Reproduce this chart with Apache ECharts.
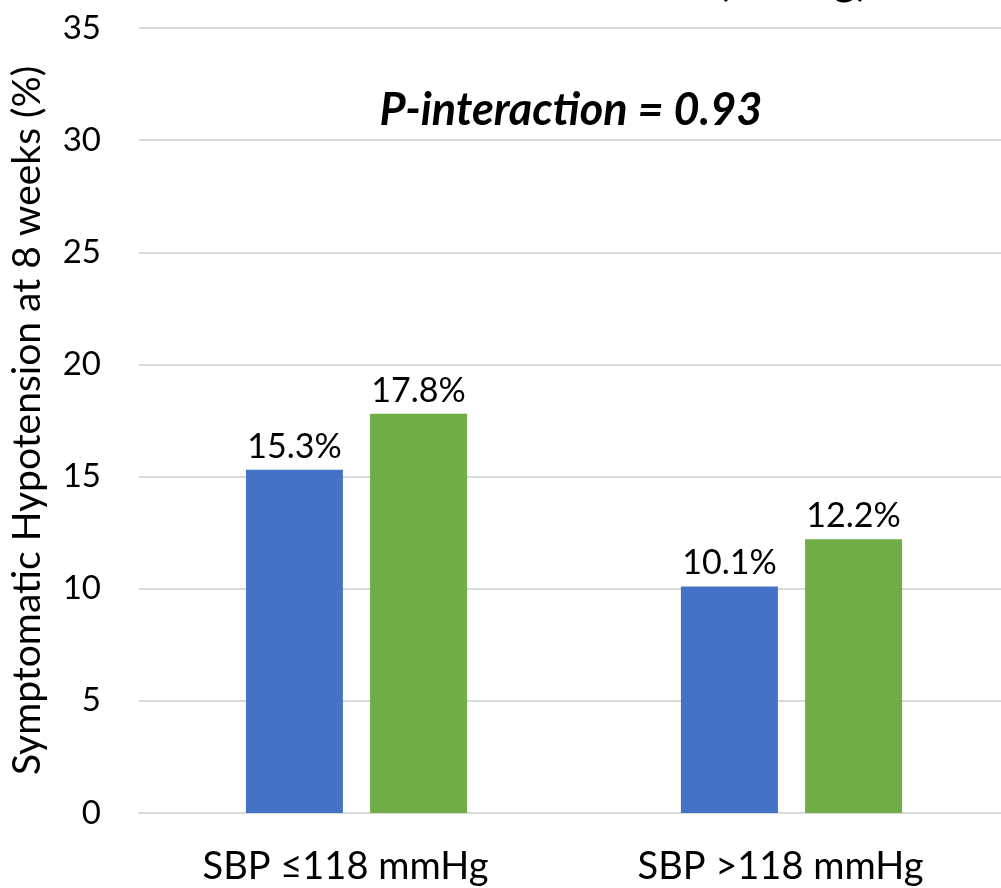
<!DOCTYPE html>
<html>
<head>
<meta charset="utf-8">
<script src="https://cdn.jsdelivr.net/npm/echarts@6/dist/echarts.min.js"></script>
<style>
  html, body { margin: 0; padding: 0; background: #fff; overflow: hidden; }
  #chart { width: 1010px; height: 888px; }
</style>
</head>
<body>
<div id="chart"></div>
<script>
// Subgroups by baseline systolic blood pressure
const categories = ['SBP \u2264118 mmHg', 'SBP >118 mmHg'];
// Symptomatic hypotension rate (%) in each treatment arm
const armBlue = [15.3, 10.1];
const armGreen = [17.8, 12.2];
// Value axis ticks
const yTicks = [0, 5, 10, 15, 20, 25, 30, 35];
const yAxisTitle = 'Symptomatic Hypotension at 8 weeks (%)';
const pInteraction = 'P-interaction = 0.93';
const topHeading = '(mmHg)';

const FONT = 'Lato, "Open Sans", sans-serif';
const chart = echarts.init(document.getElementById('chart'), null, { renderer: 'canvas' });

const labelStyle = {
  show: true,
  position: 'top',
  distance: 6,
  fontFamily: FONT,
  fontSize: 34,
  color: '#000',
  formatter: p => p.value.toFixed(1) + '%'
};

chart.setOption({
  animation: false,
  backgroundColor: '#fff',
  grid: { left: 138, top: 28, width: 871, bottom: 75, containLabel: false },
  xAxis: {
    type: 'category',
    data: categories,
    axisLine: { lineStyle: { color: '#d9d9d9', width: 2 } },
    axisTick: { show: false },
    axisLabel: {
      fontFamily: FONT, fontSize: 38, color: '#000', margin: 35,
      padding: [0, 22, 0, 0]
    }
  },
  yAxis: {
    type: 'value',
    min: yTicks[0],
    max: yTicks[yTicks.length - 1],
    interval: yTicks[1] - yTicks[0],
    name: yAxisTitle,
    nameLocation: 'middle',
    nameGap: 92,
    nameTextStyle: { fontFamily: FONT, fontSize: 39, color: '#000' },
    axisLine: { show: false },
    axisTick: { show: false },
    axisLabel: { fontFamily: FONT, fontSize: 33, color: '#000', margin: 38 },
    splitLine: { lineStyle: { color: '#d9d9d9', width: 2 } }
  },
  series: [
    {
      type: 'bar',
      data: armBlue,
      barWidth: 97,
      barGap: '28%',
      itemStyle: { color: '#4472C4' },
      label: labelStyle
    },
    {
      type: 'bar',
      data: armGreen,
      barWidth: 97,
      itemStyle: { color: '#70AD47' },
      label: labelStyle
    }
  ],
  graphic: [
    {
      type: 'text',
      x: 571,
      y: 110,
      style: {
        text: pInteraction,
        textAlign: 'center',
        textVerticalAlign: 'middle',
        fontFamily: FONT,
        fontSize: 45,
        fontWeight: 'bold',
        fontStyle: 'italic',
        fill: '#000'
      }
    },
    {
      type: 'text',
      x: 868,
      y: 3,
      style: {
        text: topHeading,
        textAlign: 'right',
        textVerticalAlign: 'bottom',
        fontFamily: FONT,
        fontSize: 43,
        fontWeight: 'bold',
        fill: '#000'
      }
    }
  ]
});
</script>
</body>
</html>
